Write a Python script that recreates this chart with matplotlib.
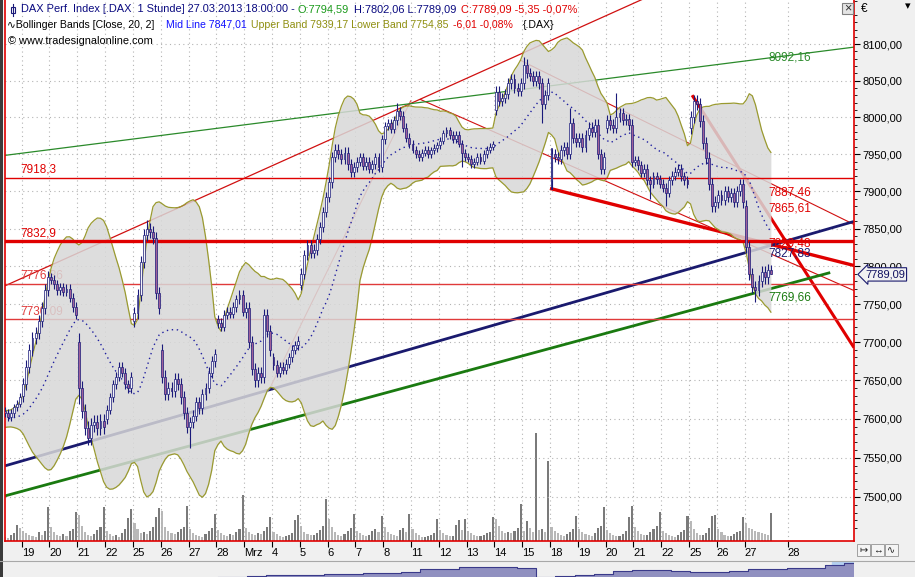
import numpy as np
import pandas as pd
import matplotlib
matplotlib.use('Agg')
import matplotlib.pyplot as plt
from matplotlib.patches import Rectangle
from matplotlib.lines import Line2D
from matplotlib.transforms import blended_transform_factory
from matplotlib.ticker import FixedLocator, FuncFormatter, NullFormatter

plt.rcParams['font.family'] = ['Liberation Sans', 'DejaVu Sans']

W, H = 915, 577
NAVY = '#1a1a7a'
RED = '#e00000'

# ---------------------------------------------------------------- data
# hourly DAX candles, 9 bars per session (Feb 15 + first bars of Feb 18 only feed the bands)
day_labels = ['15', '18', '19', '20', '21', '22', '25', '26', '27', '28', 'Mrz',
              '4', '5', '6', '7', '8', '11', '12', '13', '14', '15', '18',
              '19', '20', '21', '22', '25', '26', '27']

closes = [
    [7590, 7595, 7600, 7598, 7605, 7600, 7595, 7600, 7595],      # 15 Feb
    [7600, 7605, 7610, 7608, 7603, 7608, 7615, 7620, 7628],      # 18
    [7645, 7668, 7690, 7705, 7712, 7728, 7745, 7768, 7785],      # 19
    [7782, 7776, 7768, 7772, 7766, 7770, 7758, 7746, 7736],      # 20
    [7640, 7610, 7588, 7575, 7592, 7596, 7588, 7598, 7590],      # 21
    [7612, 7628, 7645, 7655, 7668, 7660, 7645, 7640, 7655],      # 22
    [7738, 7762, 7805, 7842, 7850, 7846, 7838, 7765, 7745],      # 25
    [7655, 7632, 7640, 7636, 7652, 7645, 7628, 7608, 7590],      # 26
    [7596, 7604, 7622, 7614, 7632, 7640, 7660, 7675, 7684],      # 27
    [7725, 7720, 7736, 7740, 7737, 7746, 7756, 7762, 7740],      # 28
    [7745, 7700, 7665, 7650, 7660, 7655, 7735, 7715, 7690],      # 1 Mrz
    [7670, 7660, 7668, 7664, 7672, 7680, 7690, 7696, 7702],      # 4
    [7790, 7815, 7828, 7818, 7822, 7836, 7852, 7872, 7892],      # 5
    [7912, 7946, 7956, 7950, 7944, 7952, 7936, 7926, 7932],      # 6
    [7940, 7946, 7934, 7940, 7930, 7936, 7946, 7932, 7970],      # 7
    [7988, 7992, 7984, 7996, 8008, 8002, 7986, 7972, 7964],      # 8
    [7956, 7950, 7946, 7952, 7956, 7950, 7955, 7958, 7962],      # 11
    [7968, 7978, 7982, 7976, 7970, 7976, 7964, 7952, 7946],      # 12
    [7944, 7936, 7940, 7946, 7941, 7950, 7956, 7960, 7963],      # 13
    [8035, 8022, 8026, 8032, 8046, 8052, 8040, 8036, 8046],      # 14
    [8072, 8060, 8056, 8050, 8056, 8046, 8018, 8030, 8046],      # 15
    [7950, 7946, 7944, 7955, 7960, 7950, 7992, 7972, 7966],      # 18
    [7972, 7960, 7976, 7986, 7980, 7990, 7950, 7930, 7946],      # 19
    [7996, 7990, 7986, 8000, 8006, 7996, 7998, 7990, 7940],      # 20
    [7942, 7935, 7925, 7930, 7915, 7910, 7920, 7916, 7910],      # 21
    [7905, 7898, 7915, 7921, 7926, 7930, 7920, 7915, 7910],      # 22
    [8000, 8022, 8018, 7995, 7965, 7945, 7910, 7880, 7885],      # 25
    [7895, 7888, 7900, 7892, 7898, 7886, 7900, 7910, 7885],      # 26
    [7825, 7790, 7772, 7768, 7780, 7792, 7785, 7794.59, 7789.09],  # 27
]

# open of the first bar of each session (nan = previous close)
first_open = [7592, np.nan, 7630, np.nan, 7700, 7600, 7728, 7690, np.nan, 7730,
              np.nan, 7680, 7775, np.nan, np.nan, np.nan, np.nan, np.nan, np.nan,
              8010, np.nan, 7915, np.nan, 7985, np.nan, np.nan, 7985, np.nan, 7880]

# typical wick length per session (index points)
wick = [5, 5, 8, 6, 9, 6, 8, 8, 7, 6, 8, 6, 7, 7, 6, 6, 5, 5, 5, 7, 7, 7, 7, 7,
        6, 6, 8, 7, 8]

# single bars with visibly longer wicks: bar number from 19 Feb, high, low
spike_bar = [18, 40, 54, 90, 121, 142, 162, 168, 171, 177, 192, 203, 208, 217, 237, 242]
spike_hi = [7712, 7862, np.nan, np.nan, 8020, np.nan, 8082, np.nan, np.nan, 8012,
            8033, np.nan, np.nan, 8030, np.nan, 7802.06]
spike_lo = [7620, np.nan, 7562, 7768, np.nan, 7932, np.nan, 7992, 7903, np.nan,
            np.nan, 7890, 7880, np.nan, 7752, 7789.09]

volumes = [
    [10, 6, 5, 4, 5, 6, 7, 9, 14],
    [10, 6, 5, 4, 3, 6, 8, 16, 13],
    [10, 8, 6, 5, 4, 9, 6, 10, 34],
    [14, 9, 6, 5, 7, 5, 10, 12, 29],
    [26, 15, 9, 6, 5, 7, 11, 14, 34],
    [10, 7, 5, 6, 4, 8, 12, 23, 32],
    [18, 12, 8, 9, 7, 10, 14, 24, 33],
    [30, 14, 10, 8, 7, 9, 12, 14, 35],
    [12, 8, 6, 5, 4, 7, 10, 13, 27],
    [11, 8, 6, 5, 7, 6, 9, 12, 46],
    [13, 9, 7, 6, 8, 7, 10, 14, 24],
    [9, 7, 5, 4, 5, 6, 8, 21, 26],
    [15, 9, 7, 6, 6, 8, 11, 15, 42],
    [22, 14, 9, 6, 5, 7, 10, 13, 27],
    [10, 8, 6, 5, 6, 10, 12, 9, 25],
    [14, 9, 7, 6, 5, 11, 13, 9, 27],
    [12, 8, 6, 4, 4, 5, 6, 8, 22],
    [11, 8, 6, 5, 5, 16, 21, 11, 22],
    [10, 8, 6, 5, 5, 6, 8, 9, 24],
    [22, 15, 10, 8, 9, 8, 10, 13, 37],
    [10, 20, 13, 9, 108, 11, 12, 9, 80],
    [14, 10, 8, 6, 5, 7, 9, 12, 25],
    [12, 9, 7, 6, 5, 8, 13, 15, 34],
    [11, 8, 6, 5, 5, 7, 10, 24, 35],
    [14, 10, 7, 6, 6, 9, 12, 15, 29],
    [10, 8, 6, 5, 4, 6, 9, 11, 25],
    [20, 12, 8, 6, 6, 8, 13, 25, 26],
    [12, 9, 6, 5, 5, 7, 9, 10, 24],
    [18, 13, 12, 10, 9, 8, 7, 6, 28],
]

future_label = '28'
future_tick = 247.5

# horizontal levels and drawn trend lines (bar number, price)
h_levels = [7918.3, 7832.9, 7776.86, 7730.09]
trend_lines = {
    'up_thin':    ((-5.9, 7774.0), (202.0, 8165.0)),
    'up_steep':   ((80.2, 7643.0), (125.5, 8023.0)),
    'down_a':     ((128.4, 8024.5), (268.9, 7767.7)),
    'down_b':     ((160.8, 8078.0), (268.9, 7855.5)),
    'down_thick': ((170.5, 7903.8), (268.9, 7800.9)),
    'down_steep': ((216.5, 8030.0), (268.9, 7692.7)),
    'navy':       ((-5.9, 7539.7), (268.9, 7859.5)),
    'green':      ((-5.9, 7501.3), (261.2, 7791.5)),
    'green_top':  ((-5.9, 7948.3), (268.9, 8095.9)),
}
line_values = [8092.16, 7887.46, 7865.61, 7829.48, 7827.83, 7769.66]

# overview strip (long history, relative height)
nav_vals = [0.5, 0.5, 1.5, 2.0, 2.5, 2.5, 3, 3.5, 4, 4, 5, 8, 8.5, 10, 10.5, 10, 9,
            0.5, 1.5, 2, 3, 6, 7, 7, 6.5, 5.5, 5, 6, 8, 8.5, 9, 9.5, 12, 14]

# ---------------------------------------------------------------- build OHLC
c_list, o_list, h_list, l_list, x_list, v_list = [], [], [], [], [], []
prev = closes[0][0]
for d, day in enumerate(closes):
    for j, c in enumerate(day):
        o = prev
        if j == 0 and not np.isnan(first_open[d]):
            o = first_open[d]
        x_list.append((d - 2) * 9 + j)
        o_list.append(o)
        c_list.append(c)
        h_list.append(max(o, c) + wick[d])
        l_list.append(min(o, c) - wick[d])
        v_list.append(volumes[d][j])
        prev = c

x = np.array(x_list, dtype=float)
o = np.array(o_list, dtype=float)
c = np.array(c_list, dtype=float)
hi = np.array(h_list, dtype=float)
lo = np.array(l_list, dtype=float)
vol = np.array(v_list, dtype=float)
pos0 = int(np.where(x == 0)[0][0])
for b, sh, sl in zip(spike_bar, spike_hi, spike_lo):
    k = pos0 + b
    if not np.isnan(sh):
        hi[k] = sh
    if not np.isnan(sl):
        lo[k] = sl

s = pd.Series(c)
mid = s.rolling(20, min_periods=9).mean()
sd = s.rolling(20, min_periods=9).std(ddof=0)
upper = mid + 2 * sd
lower = mid - 2 * sd


def de(v, nd=2):
    return f'{v:.{nd}f}'.replace('.', ',')


# ---------------------------------------------------------------- figure
fig = plt.figure(figsize=(W / 100, H / 100), dpi=100)
fig.patch.set_facecolor('#f0f0f0')


def fx(px):
    return px / W


def fy(py):
    return 1 - py / H


rect = [fx(5), fy(541), (854 - 5) / W, 541 / H]
vax = fig.add_axes(rect)
ax = fig.add_axes(rect, sharex=vax)
vax.set_facecolor('white')
ax.patch.set_alpha(0)
bt = blended_transform_factory(ax.transAxes, ax.transData)

# volume
vcol = ['#7a7a7a' if (i == 0 or vol[i] >= vol[i - 1]) else '#b8b8b8' for i in range(len(vol))]
vax.bar(x, vol, width=0.68, color=vcol, linewidth=0)
vax.set_ylim(0, 541)
vax.tick_params(left=False, labelleft=False, bottom=False, labelbottom=False)
for sp in vax.spines.values():
    sp.set_visible(False)

ax.set_yscale('log')
ax.set_xlim(-5.9, 268.9)
ax.set_ylim(7444, 8161)

# trend lines (under the band)
tl_style = {
    'up_thin':    ('#d01010', 0.9),
    'up_steep':   ('#e05050', 0.8),
    'down_a':     ('#d01010', 0.8),
    'down_b':     ('#d01010', 0.8),
    'down_thick': ('#e00000', 2.4),
    'down_steep': ('#e00000', 2.2),
    'navy':       ('#1a1a6e', 2.0),
    'green':      ('#1a7a10', 2.0),
    'green_top':  ('#2a8a2a', 0.9),
}
for name, ((x0, p0), (x1, p1)) in trend_lines.items():
    col, lw = tl_style[name]
    ax.plot([x0, x1], [p0, p1], color=col, lw=lw, zorder=1.5, solid_capstyle='butt')
ax.plot([x[pos0 + 171]] * 2, [lo[pos0 + 171], hi[pos0 + 171]], color=NAVY, lw=1.2, zorder=1.6)

# thin levels under the band, strong ones above
lvl_style = [(RED, 1.0, 3.0), (RED, 2.4, 3.0), ('#e03a3a', 1.0, 1.8), ('#e03a3a', 1.0, 1.8)]
for lvl, (col, lw, z) in zip(h_levels, lvl_style):
    ax.axhline(lvl, color=col, lw=lw, zorder=z)
    ax.annotate(str(lvl).replace('.', ','), xy=(0.0177, lvl), xycoords=bt,
                xytext=(0, 1.5), textcoords='offset points', va='bottom', ha='left',
                fontsize=8.5, color=col, zorder=z)

# Bollinger band
ax.fill_between(x, lower, upper, color='#d8d8d8', alpha=0.85, lw=0, zorder=2)
ax.plot(x, upper, color='#9a9a30', lw=0.9, zorder=2.1)
ax.plot(x, lower, color='#9a9a30', lw=0.9, zorder=2.1)
ax.plot(x, mid, color='#2020a0', lw=1.0, ls=(0, (1, 2.6)), zorder=2.2)

# candles
up = c >= o
ax.vlines(x, lo, hi, colors=NAVY, lw=0.8, zorder=4)
body_lo = np.minimum(o, c)
body_h = np.maximum(np.abs(c - o), 0.7)
ax.bar(x, body_h, bottom=body_lo, width=0.62,
       color=np.where(up, '#f4f4fa', '#a0609a'), edgecolor=NAVY, linewidth=0.5, zorder=5)

# values of the lines at the last bar
lv_colors = ['#2a8a2a', RED, RED, RED, '#1a1a6e', '#1a7a10']
lv_va = ['top', 'bottom', 'bottom', 'center', 'top', 'top']
lv_dy = [-1.5, 1.5, 1.5, 0, -1.5, -1.5]
for v, col, va, dy in zip(line_values, lv_colors, lv_va, lv_dy):
    ax.annotate(de(v), xy=(0.899, v), xycoords=bt, xytext=(0, dy), textcoords='offset points',
                va=va, ha='left', fontsize=8.5, color=col, zorder=6)

# axes, ticks
day_ticks = [9 * k - 0.5 for k in range(len(day_labels) - 2)] + [future_tick]
ax.xaxis.set_major_locator(FixedLocator(day_ticks))
ax.set_xticklabels(day_labels[2:] + [future_label])
for t in ax.get_xticklabels():
    t.set_ha('left')
ax.tick_params(axis='x', direction='out', length=4, pad=1, labelsize=8, color='black')

major = list(range(7500, 8101, 50))
minor = [v for v in range(7450, 8161, 10) if v % 50]
ax.yaxis.set_major_locator(FixedLocator(major))
ax.yaxis.set_minor_locator(FixedLocator(minor))
ax.yaxis.set_major_formatter(FuncFormatter(lambda v, p: de(v)))
ax.yaxis.set_minor_formatter(NullFormatter())
ax.yaxis.tick_right()
ax.tick_params(axis='y', which='major', direction='out', length=4, pad=2, labelsize=8)
ax.tick_params(axis='y', which='minor', direction='out', length=2)
ax.tick_params(axis='y', which='both', left=False, labelleft=False)

ax.grid(True, which='major', ls=(0, (1, 3)), color='#b4b4b4', lw=0.8)
ax.set_axisbelow(True)
for name in ['left', 'right', 'bottom']:
    ax.spines[name].set_color(RED)
    ax.spines[name].set_linewidth(1.2)
ax.spines['top'].set_visible(False)

# last price tag
ax.text(1.013, 7789.09, '7789,09', transform=bt, fontsize=8, color='#101060',
        va='center', ha='left', clip_on=False, zorder=10,
        bbox=dict(boxstyle='larrow,pad=0.15', fc='#f2f2f2', ec='#1a1a6e', lw=0.8))

# ---------------------------------------------------------------- header
def htext(px, py, txt, col, fs=7.9):
    fig.text(fx(px), fy(py), txt, color=col, fontsize=fs, va='center', ha='left')


fig.add_artist(Line2D([fx(13), fx(13)], [fy(4), fy(16)], color=NAVY, lw=0.8))
fig.add_artist(Rectangle((fx(11), fy(13)), fx(4), 6 / H, fc='white', ec=NAVY, lw=0.8))
htext(21, 9.5, 'DAX Perf. Index [.DAX  1 Stunde] 27.03.2013 18:00:00 -', '#0a0a80')
htext(298, 9.5, 'O:7794,59', '#1a9a1a')
htext(354, 9.5, 'H:7802,06 L:7789,09', '#0a0a80')
htext(461, 9.5, 'C:7789,09 -5,35 -0,07%', RED)
htext(7, 24.5, '\u223fBollinger Bands [Close, 20, 2]', 'black', 7.6)
htext(166, 24.5, 'Mid Line 7847,01', '#1010ff', 7.6)
htext(251, 24.5, 'Upper Band 7939,17 Lower Band 7754,85', '#8f8f10', 7.6)
htext(453, 24.5, '-6,01 -0,08%', RED, 7.6)
htext(523, 24.5, '{.DAX}', 'black', 7.6)
htext(8, 40.5, '\u00a9 www.tradesignalonline.com', 'black')

# window decorations
fig.add_artist(Rectangle((0, 0), fx(3), 1, fc='#3a3a3a', ec='none'))
fig.add_artist(Rectangle((fx(842), fy(14)), fx(11), 11 / H, fc='#e4e4e4', ec='#808080', lw=0.8))
fig.text(fx(847.5), fy(8.5), '\u00d7', fontsize=9, ha='center', va='center', color='#303030')
fig.text(fx(861), fy(9), '\u20ac', fontsize=8.5, ha='left', va='center', color='black')
fig.text(fx(908), fy(6), '\u25be', fontsize=8, ha='center', va='center', color='black')
for i, sym in enumerate(['\u21a6', '\u2194', '\u223f']):
    x0 = 857 + i * 14
    fig.add_artist(Rectangle((fx(x0), fy(556)), fx(13), 12 / H, fc='#f4f4f4', ec='#a0a0a0', lw=0.7))
    fig.text(fx(x0 + 6.5), fy(550), sym, fontsize=7, ha='center', va='center', color='#202020')

# overview strip
fig.add_artist(Line2D([fx(0), fx(915)], [fy(561), fy(561)], color='#a8a8a8', lw=0.8))
nax = fig.add_axes([fx(5), 0, (854 - 5) / W, 15 / H])
nax.set_facecolor('#ececec')
nax.set_xlim(5, 854)
nax.set_ylim(0, 15)
nax.axvspan(832, 854, color='#b4d0f0', zorder=0)
nx = np.linspace(218, 854, len(nav_vals))
nax.fill_between(nx, 0, nav_vals, color='#9090c0', lw=0, step='mid')
nax.step(nx, nav_vals, where='mid', color='#3a3a8a', lw=0.8)
nax.axis('off')

fig.savefig('out.png', dpi=100, facecolor=fig.get_facecolor())
